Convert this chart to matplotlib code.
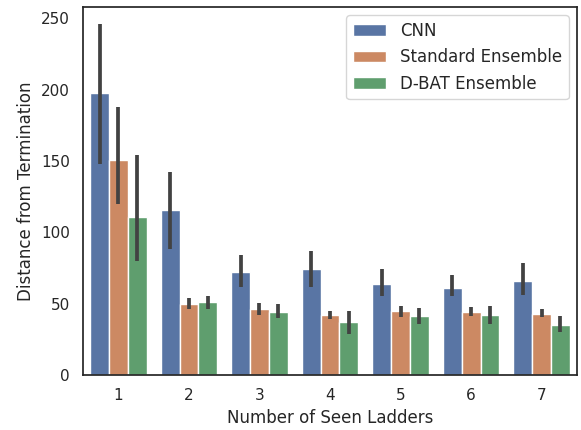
import numpy as np
import matplotlib.pyplot as plt
import seaborn as sns

sns.set_theme(style="white")

ladders = ["1", "2", "3", "4", "5", "6", "7"]
modelos = ["CNN", "Standard Ensemble", "D-BAT Ensemble"]

# media, limite inferior y superior del intervalo
cnn_mean = [197.5, 115.5, 72, 74, 63.5, 61, 66]
cnn_low = [148, 88, 62, 62, 55.5, 55.5, 56]
cnn_high = [246, 142, 84, 87, 74, 70, 78.5]

std_mean = [150.5, 50, 46.5, 42, 44.5, 44, 43]
std_low = [120, 46, 42, 39, 40.7, 41, 40.5]
std_high = [188, 54, 50.5, 45, 48.5, 47.5, 46]

dbat_mean = [111, 51, 44, 37, 41, 42, 35]
dbat_low = [80, 46, 40, 29, 35.5, 35.5, 30]
dbat_high = [154, 55, 49.5, 45, 47, 48.5, 41.5]

series = [
    (cnn_mean, cnn_low, cnn_high),
    (std_mean, std_low, std_high),
    (dbat_mean, dbat_low, dbat_high),
]
colores = [sns.desaturate(c, 0.75) for c in sns.color_palette("deep", 3)]

fig, ax = plt.subplots(figsize=(5.81, 4.3), dpi=100)
x = np.arange(len(ladders))
ancho = 0.8 / 3
for i, (nombre, (m, lo, hi)) in enumerate(zip(modelos, series)):
    pos = x - 0.4 + ancho * (i + 0.5)
    ax.bar(pos, m, width=ancho, color=colores[i], label=nombre,
           edgecolor="white", linewidth=1)
    ax.vlines(pos, lo, hi, color=".26", linewidth=2.7)

ax.set_xticks(x)
ax.set_xticklabels(ladders)
ax.set_xlim(-0.5, len(ladders) - 0.5)
ax.set_ylim(0, 258)
ax.set_xlabel("Number of Seen Ladders")
ax.set_ylabel("Distance from Termination")
ax.legend(loc="upper right", fontsize=12)

fig.subplots_adjust(left=0.143, right=0.993, top=0.984, bottom=0.128)
fig.savefig("out.png")
